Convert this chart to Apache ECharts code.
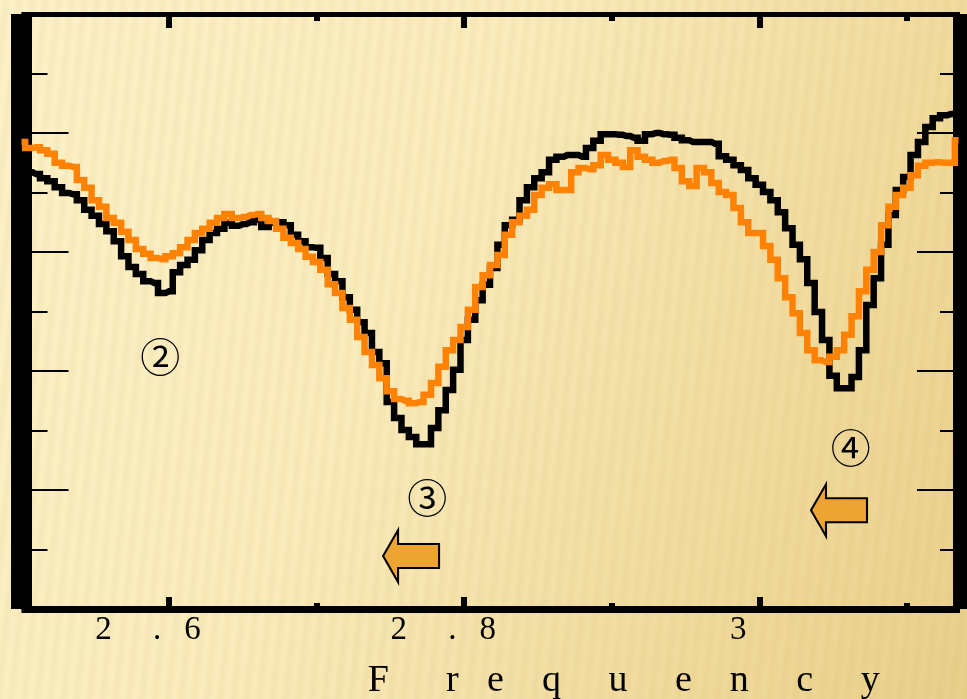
<!DOCTYPE html>
<html>
<head>
<meta charset="utf-8">
<script src="https://cdn.jsdelivr.net/npm/echarts@6/dist/echarts.min.js"></script>
<style>
  html, body { margin: 0; padding: 0; }
  body {
    width: 967px; height: 699px; overflow: hidden;
    background:
      repeating-linear-gradient(96deg, rgba(205,165,70,0) 0px, rgba(205,165,70,0.10) 6px, rgba(205,165,70,0) 13px),
      linear-gradient(115deg, #fdf2ca 0%, #faedbf 40%, #f0da9c 78%, #e9d08c 100%);
  }
  #chart { width: 967px; height: 699px; }
</style>
</head>
<body>
<div id="chart"></div>
<script>
// Frequency samples (x) and the two measured traces (y, grid units)
const freq = [
  2.500, 2.505, 2.510, 2.515, 2.520, 2.525, 2.530, 2.535, 2.540, 2.545,
  2.550, 2.555, 2.560, 2.565, 2.570, 2.575, 2.580, 2.585, 2.590, 2.595,
  2.600, 2.605, 2.610, 2.615, 2.620, 2.625, 2.630, 2.635, 2.640, 2.645,
  2.650, 2.655, 2.660, 2.665, 2.670, 2.675, 2.680, 2.685, 2.690, 2.695,
  2.700, 2.705, 2.710, 2.715, 2.720, 2.725, 2.730, 2.735, 2.740, 2.745,
  2.750, 2.755, 2.760, 2.765, 2.770, 2.775, 2.780, 2.785, 2.790, 2.795,
  2.800, 2.805, 2.810, 2.815, 2.820, 2.825, 2.830, 2.835, 2.840, 2.845,
  2.850, 2.855, 2.860, 2.865, 2.870, 2.875, 2.880, 2.885, 2.890, 2.895,
  2.900, 2.905, 2.910, 2.915, 2.920, 2.925, 2.930, 2.935, 2.940, 2.945,
  2.950, 2.955, 2.960, 2.965, 2.970, 2.975, 2.980, 2.985, 2.990, 2.995,
  3.000, 3.005, 3.010, 3.015, 3.020, 3.025, 3.030, 3.035, 3.040, 3.045,
  3.050, 3.055, 3.060, 3.065, 3.070, 3.075, 3.080, 3.085, 3.090, 3.095,
  3.100, 3.105, 3.110, 3.115, 3.120, 3.125, 3.130, 3.135
];

const blackTrace = [
  7.38, 7.34, 7.31, 7.24, 7.19, 7.09, 6.99, 6.97, 6.87, 6.71,
  6.61, 6.47, 6.35, 6.18, 5.93, 5.75, 5.63, 5.51, 5.48, 5.31,
  5.34, 5.66, 5.78, 5.87, 6.03, 6.20, 6.32, 6.39, 6.49, 6.44,
  6.47, 6.50, 6.54, 6.42, 6.49, 6.50, 6.45, 6.29, 6.18, 6.08,
  6.07, 5.90, 5.63, 5.51, 5.24, 5.03, 4.82, 4.64, 4.32, 4.13,
  3.48, 3.21, 3.01, 2.89, 2.77, 2.77, 3.04, 3.34, 3.68, 4.02,
  4.52, 4.86, 5.19, 5.45, 5.73, 6.12, 6.45, 6.54, 6.87, 7.09,
  7.24, 7.34, 7.55, 7.60, 7.63, 7.63, 7.60, 7.75, 7.87, 7.98,
  7.98, 7.97, 7.95, 7.92, 7.87, 7.98, 8.00, 7.98, 7.97, 7.92,
  7.88, 7.85, 7.85, 7.85, 7.82, 7.61, 7.55, 7.46, 7.38, 7.24,
  7.13, 7.01, 6.87, 6.67, 6.40, 6.12, 5.88, 5.48, 4.99, 4.52,
  3.92, 3.71, 3.71, 3.90, 4.35, 5.11, 5.56, 6.12, 6.62, 7.04,
  7.26, 7.63, 7.85, 8.10, 8.25, 8.30, 8.32, 8.32
];

const orangeTrace = [
  7.85, 7.75, 7.76, 7.71, 7.65, 7.50, 7.45, 7.43, 7.21, 7.08,
  6.87, 6.76, 6.57, 6.49, 6.34, 6.20, 6.05, 5.97, 5.90, 5.88,
  5.93, 5.98, 6.08, 6.20, 6.32, 6.39, 6.49, 6.57, 6.64, 6.57,
  6.59, 6.62, 6.64, 6.57, 6.52, 6.39, 6.24, 6.15, 6.05, 5.92,
  5.83, 5.70, 5.46, 5.31, 5.06, 4.86, 4.57, 4.32, 4.10, 3.88,
  3.66, 3.53, 3.50, 3.46, 3.48, 3.60, 3.80, 4.07, 4.35, 4.52,
  4.74, 5.03, 5.41, 5.61, 5.78, 5.95, 6.29, 6.50, 6.61, 6.71,
  6.96, 7.08, 7.14, 7.04, 7.04, 7.34, 7.41, 7.39, 7.46, 7.63,
  7.55, 7.50, 7.43, 7.71, 7.60, 7.55, 7.50, 7.53, 7.55, 7.41,
  7.19, 7.11, 7.41, 7.34, 7.16, 7.01, 6.96, 6.74, 6.50, 6.32,
  6.32, 6.10, 5.87, 5.56, 5.24, 4.97, 4.64, 4.35, 4.18, 4.15,
  4.24, 4.35, 4.61, 4.92, 5.34, 5.70, 6.00, 6.45, 6.76, 6.96,
  7.08, 7.29, 7.45, 7.50, 7.51, 7.50, 7.50, 7.88
];

// Axis ticks and labels
const tickValues = [2.6, 2.8, 3.0];
const tickLabels = ['2     .\u2009  6', '2     .\u2009  8', '3'];
const minorTickValues = [2.7, 2.9, 3.1];
const axisTitle = 'F      r   e    q     u     e    n     c     y';

// Resonance annotations and arrows
const peakLabels = ['②', '③', '④'];
const peakLabelFreq = [2.594, 2.775, 3.062];
const peakLabelLevel = [4.24, 1.87, 2.71];
const arrowFreq = [2.764, 3.054];
const arrowLevel = [0.89, 1.66];

const X_MIN = 2.5, X_MAX = 3.136;
const SERIF = '"Liberation Serif", "Times New Roman", serif';

const pairs = (ys) => freq.map((f, i) => [f, ys[i]]);

function xAxisDef(position, opts) {
  return Object.assign({
    type: 'value', position: position, min: X_MIN, max: X_MAX,
    splitLine: { show: false },
    axisLabel: { show: false },
    axisLine: { show: false },
    axisTick: { show: false }
  }, opts);
}

const chart = echarts.init(document.getElementById('chart'), null, { renderer: 'canvas' });

chart.setOption({
  animation: false,
  backgroundColor: 'transparent',
  grid: { left: 21.5, right: 7, top: 14, bottom: 90, containLabel: false, outerBoundsMode: 'none' },
  xAxis: [
    xAxisDef('bottom', {
      axisLine: { show: true, lineStyle: { color: '#000', width: 7, cap: 'butt' } },
      axisTick: { show: true, inside: true, length: 12, customValues: tickValues,
                  lineStyle: { color: '#000', width: 6 } },
      axisLabel: {
        show: true, customValues: tickValues, margin: 5,
        fontFamily: SERIF, fontSize: 33, lineHeight: 33, color: '#000',
        padding: [0, 42, 0, 0],
        formatter: (v) => {
          const i = tickValues.findIndex(t => Math.abs(t - v) < 1e-6);
          return i >= 0 ? tickLabels[i] : '';
        }
      },
      name: axisTitle, nameLocation: 'middle', nameGap: 52,
      nameTextStyle: {
        fontFamily: SERIF, fontSize: 38, lineHeight: 40, color: '#000',
        padding: [0, 0, 0, 266]
      }
    }),
    xAxisDef('bottom', {
      axisTick: { show: true, inside: true, length: 6, customValues: minorTickValues,
                  lineStyle: { color: '#000', width: 6 } }
    }),
    xAxisDef('top', {
      axisLine: { show: true, lineStyle: { color: '#000', width: 5, cap: 'butt' } },
      axisTick: { show: true, inside: true, length: 14, customValues: tickValues,
                  lineStyle: { color: '#000', width: 6 } }
    }),
    xAxisDef('top', {
      axisTick: { show: true, inside: true, length: 7, customValues: minorTickValues,
                  lineStyle: { color: '#000', width: 6 } }
    })
  ],
  yAxis: [
    {
      type: 'value', position: 'left', min: 0, max: 10, interval: 2,
      splitLine: { show: false },
      axisLabel: { show: false },
      axisLine: { show: true, lineStyle: { color: '#000', width: 21, cap: 'butt' } },
      axisTick: { show: true, inside: true, length: 47, lineStyle: { color: '#000', width: 2 } },
      minorTick: { show: true, splitNumber: 2, length: 26, lineStyle: { color: '#000', width: 2 } },
      minorSplitLine: { show: false }
    },
    {
      type: 'value', position: 'right', min: 0, max: 10, interval: 2,
      splitLine: { show: false },
      axisLabel: { show: false },
      axisLine: { show: true, lineStyle: { color: '#000', width: 14, cap: 'butt' } },
      axisTick: { show: true, inside: true, length: 43, lineStyle: { color: '#000', width: 2 } },
      minorTick: { show: true, splitNumber: 2, length: 20, lineStyle: { color: '#000', width: 2 } },
      minorSplitLine: { show: false }
    }
  ],
  series: [
    {
      name: 'black', type: 'line', step: 'middle', xAxisIndex: 0, yAxisIndex: 0,
      data: pairs(blackTrace), showSymbol: false, symbol: 'none',
      lineStyle: { color: '#000000', width: 6.5, join: 'miter' },
      z: 3,
      markPoint: {
        symbol: 'circle', symbolSize: 1,
        itemStyle: { color: 'rgba(0,0,0,0)' },
        label: {
          show: true, position: 'inside', color: '#000',
          fontFamily: '"Noto Sans CJK JP", "Noto Sans CJK SC", sans-serif',
          fontSize: 40
        },
        data: peakLabels.map((t, i) => ({
          coord: [peakLabelFreq[i], peakLabelLevel[i]],
          label: { formatter: t }
        }))
      }
    },
    {
      name: 'orange', type: 'line', step: 'middle', xAxisIndex: 0, yAxisIndex: 0,
      data: pairs(orangeTrace), showSymbol: false, symbol: 'none',
      lineStyle: { color: '#ff8205', width: 6.5, join: 'miter' },
      z: 4,
      markPoint: {
        symbol: 'path://M0 26 L15 0 L15 14 L56 14 L56 38 L15 38 L15 52 Z',
        symbolSize: [56, 52], symbolKeepAspect: false,
        itemStyle: { color: '#eea432', borderColor: '#000', borderWidth: 2 },
        label: { show: false },
        data: arrowFreq.map((f, i) => ({ coord: [f, arrowLevel[i]] }))
      }
    }
  ]
});
</script>
</body>
</html>
